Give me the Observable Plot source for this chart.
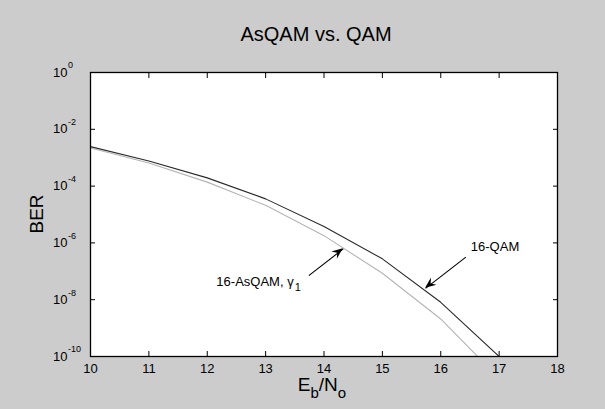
<!DOCTYPE html>
<html>
<head>
<meta charset="utf-8">
<script src="https://cdn.jsdelivr.net/npm/d3@7"></script>
<script src="https://cdn.jsdelivr.net/npm/@observablehq/plot@0.6"></script>
<style>
  html, body { margin: 0; padding: 0; background: #cccccc; }
  #chart svg { display: block; }
</style>
</head>
<body>
<div id="chart"></div>
<script>
const ebno = [10, 11, 12, 13, 14, 15, 16, 17];
const berQAM = [2.45e-3, 7.6e-4, 1.95e-4, 3.55e-5, 3.8e-6, 2.75e-7, 8.1e-9, 1e-10];
const berAsQAM = [2.19e-3, 6.5e-4, 1.38e-4, 2.1e-5, 1.8e-6, 8.5e-8, 2.1e-9, 1.7e-11];
const xTicks = [10, 11, 12, 13, 14, 15, 16, 17, 18];
const yTickExps = [0, -2, -4, -6, -8, -10];
const titleText = "AsQAM vs. QAM";

const annQAM = [{text: "16-QAM", x: 16.93, y: 10 ** -6.15, x1: 16.43, y1: 10 ** -6.5, x2: 15.74, y2: 10 ** -7.6}];
const annAsQAM = [{text: "16-AsQAM, γ", sub: "1", x: 13.48, y: 10 ** -7.38, x1: 13.74, y1: 10 ** -7.15, x2: 14.33, y2: 10 ** -6.21}];
const annotations = [...annQAM, ...annAsQAM];

const qam = ebno.map((x, i) => ({x, y: berQAM[i]}));
const asqam = ebno.map((x, i) => ({x, y: berAsQAM[i]}));
const yTicks = yTickExps.map(e => 10 ** e);

const font = "Liberation Sans, Arial, sans-serif";

const plot = Plot.plot({
  width: 605,
  height: 409,
  marginLeft: 90,
  marginRight: 48,
  marginTop: 72,
  marginBottom: 53,
  style: {background: "#cccccc", fontFamily: font, fontSize: "13px", color: "black"},
  x: {domain: [10, 18]},
  y: {type: "log", domain: [1e-10, 1]},
  marks: [
    Plot.frame({fill: "white", stroke: "none"}),
    Plot.line(asqam, {x: "x", y: "y", stroke: "#b4b4b4", strokeWidth: 1.1, clip: true}),
    Plot.line(qam, {x: "x", y: "y", stroke: "#2a2a2a", strokeWidth: 1.1, clip: true}),
    Plot.frame({stroke: "black", strokeWidth: 1.3}),
    Plot.axisX({anchor: "bottom", ticks: xTicks, tickSize: -5, tickPadding: 12, label: null, fontSize: 13}),
    Plot.axisX({anchor: "top", ticks: xTicks, tickSize: -5, tickFormat: () => "", label: null}),
    Plot.axisY({anchor: "left", ticks: yTicks, tickSize: -5, tickFormat: () => "", label: null}),
    Plot.axisY({anchor: "right", ticks: yTicks, tickSize: -5, tickFormat: () => "", label: null}),
    Plot.text(yTicks, {y: d => d, frameAnchor: "left", text: () => "10", textAnchor: "end", dx: -23, fontSize: 13}),
    Plot.text(yTicks, {y: d => d, frameAnchor: "left", text: d => String(Math.round(Math.log10(d))), textAnchor: "start", dx: -22.5, dy: -7, fontSize: 9}),
    Plot.link(annotations, {x1: "x1", y1: "y1", x2: "x2", y2: "y2", stroke: "black", strokeWidth: 1.1}),
    Plot.text(annQAM, {x: "x", y: "y", text: "text", textAnchor: "middle", fontSize: 13}),
    Plot.text(annAsQAM, {x: "x", y: "y", text: "text", textAnchor: "end", fontSize: 13}),
    Plot.text(annAsQAM, {x: "x", y: "y", text: "sub", textAnchor: "start", dx: 1, dy: 5, fontSize: 11})
  ]
});

const svg = d3.select(plot);
const sx = plot.scale("x"), sy = plot.scale("y");
// filled notched arrowheads, positioned via the scales
for (const a of annotations) {
  const X1 = sx.apply(a.x1), Y1 = sy.apply(a.y1), X2 = sx.apply(a.x2), Y2 = sy.apply(a.y2);
  const ang = Math.atan2(Y2 - Y1, X2 - X1);
  const L = 11, W = 4.5, N = 7;
  const ux = Math.cos(ang), uy = Math.sin(ang), px = -uy, py = ux;
  const pts = [
    [X2, Y2],
    [X2 - L * ux + W * px, Y2 - L * uy + W * py],
    [X2 - N * ux, Y2 - N * uy],
    [X2 - L * ux - W * px, Y2 - L * uy - W * py]
  ];
  svg.append("polygon").attr("points", pts.map(p => p.join(",")).join(" ")).attr("fill", "black");
}
// title
svg.append("text")
  .attr("x", 316).attr("y", 40.5).attr("text-anchor", "middle")
  .attr("font-family", font).attr("font-size", 20).text(titleText);
// y label
svg.append("text")
  .attr("transform", "translate(42.5,214) rotate(-90)").attr("text-anchor", "middle")
  .attr("font-family", font).attr("font-size", 19).text("BER");
// x label
const xl = svg.append("text")
  .attr("x", 322).attr("y", 391).attr("text-anchor", "middle")
  .attr("font-family", font).attr("font-size", 19);
xl.append("tspan").text("E");
xl.append("tspan").attr("font-size", 15).attr("dy", 7).text("b");
xl.append("tspan").attr("dy", -7).text("/N");
xl.append("tspan").attr("font-size", 15).attr("dy", 7).text("o");

document.getElementById("chart").appendChild(plot);
</script>
</body>
</html>
